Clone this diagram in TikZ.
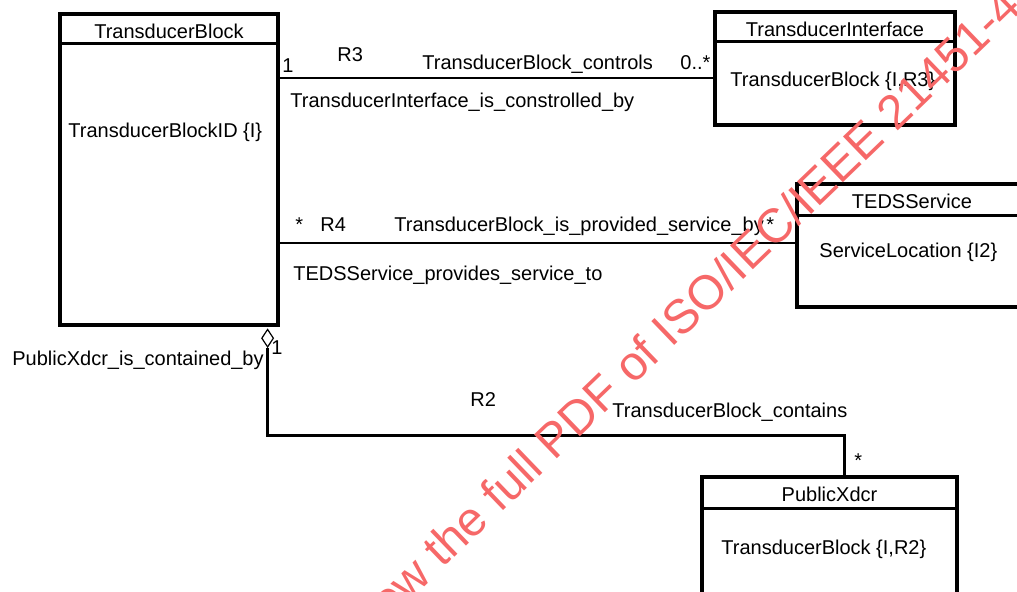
\documentclass[tikz,border=0pt]{standalone}
\usepackage{fontspec}
\setmainfont{Liberation Sans}
\usepackage{tikz}
\usetikzlibrary{shapes.geometric,positioning}
\usepackage{xcolor}
\definecolor{umlblack}{RGB}{0,0,0}
\definecolor{wmred}{RGB}{246,104,104}
\tikzstyle{classbox} = [rectangle, draw=umlblack, line width=1.6pt, inner sep=0pt]
\tikzstyle{classname} = [inner sep=0pt, minimum height=15.5pt, text height=7.2pt, text depth=0pt, yshift=-1.75pt, font=\fontsize{10}{12}\selectfont]
\tikzstyle{headline} = [line width=1.6pt, color=umlblack]
\tikzstyle{attr} = [anchor=base west, inner sep=0pt, font=\fontsize{10}{12}\selectfont]
\tikzstyle{lbl} = [anchor=base west, inner sep=0pt, font=\fontsize{10}{12}\selectfont]
\tikzstyle{assoc} = [line width=1.4pt, color=umlblack]
\tikzstyle{aggdiamond} = [diamond, draw=umlblack, line width=0.6pt, fill=white, minimum width=6pt, minimum height=9pt, inner sep=0pt]

\begin{document}
\begin{tikzpicture}[x=0.5pt, y=-0.5pt]
\useasboundingbox (0,0) rectangle (1017,592);
\clip (0,0) rectangle (1017,592);

% Classes
\node[classbox, minimum width=109pt, minimum height=155.5pt] (tb) at (169,169.5) {};
\node[classname, below=0pt of tb.north] (tbname) {TransducerBlock};
\draw[headline] ([yshift=-15.5pt]tb.north west) -- ([yshift=-15.5pt]tb.north east);
\node[attr] (tbattr) at (68,138) {TransducerBlockID \{I\}};

\node[classbox, minimum width=120pt, minimum height=56.5pt] (ti) at (835,68.5) {};
\node[classname, below=0pt of ti.north] (tiname) {TransducerInterface};
\draw[headline] ([yshift=-15.5pt]ti.north west) -- ([yshift=-15.5pt]ti.north east);
\node[attr] (tiattr) at (730,87) {TransducerBlock \{I,R3\}};

\node[classbox, minimum width=115pt, minimum height=61.5pt] (ts) at (912,245.5) {};
\node[classname, below=0pt of ts.north] (tsname) {TEDSService};
\draw[headline] ([yshift=-16.5pt]ts.north west) -- ([yshift=-16.5pt]ts.north east);
\node[attr] (tsattr) at (819,258) {ServiceLocation \{I2\}};

\node[classbox, minimum width=127.5pt, minimum height=71.5pt] (pc) at (829.5,548.5) {};
\node[classname, below=0pt of pc.north] (pcname) {PublicXdcr};
\draw[headline] ([yshift=-16.5pt]pc.north west) -- ([yshift=-16.5pt]pc.north east);
\node[attr] (pcattr) at (721,555) {TransducerBlock \{I,R2\}};

% R3
\coordinate (r3end) at ([yshift=-4.75pt]ti.west);
\draw[assoc] (tb.east |- r3end) -- (r3end);
\node[lbl] (r3one) at (282,73) {1};
\node[lbl] (r3) at (337,62) {R3};
\node[lbl] (r3fwd) at (422,70) {TransducerBlock\_controls};
\node[lbl] (r3many) at (680,70) {0..*};
\node[lbl] (r3back) at (290,108) {TransducerInterface\_is\_constrolled\_by};

% R4
\coordinate (r4end) at ([yshift=1.25pt]ts.west);
\draw[assoc] (tb.east |- r4end) -- (r4end);
\node[lbl] (r4star) at (295,232) {*};
\node[lbl] (r4) at (320,232) {R4};
\node[lbl] (r4fwd) at (394,232) {TransducerBlock\_is\_provided\_service\_by};
\node[lbl] (r4many) at (766,232) {*};
\node[lbl] (r4back) at (293,281) {TEDSService\_provides\_service\_to};

% R2
\node[aggdiamond, anchor=north] (agg) at ([xshift=-6pt, yshift=-1pt]tb.south east) {};
\draw[assoc] (agg.south) -- ++(0,88) -| ([xshift=7.5pt]pc.north);
\node[lbl] (r2one) at (271,355) {1};
\node[lbl] (r2back) at (12,366) {PublicXdcr\_is\_contained\_by};
\node[lbl] (r2) at (470,407) {R2};
\node[lbl] (r2fwd) at (612,418) {TransducerBlock\_contains};
\node[lbl] (r2many) at (854,468) {*};

% Watermark
\node[rotate=43.9, text=wmred, inner sep=0pt, font=\fontsize{24}{29}\selectfont] (wm) at (682,315) {view the full PDF of ISO/IEC/IEEE 21451-4};
\end{tikzpicture}
\end{document}
